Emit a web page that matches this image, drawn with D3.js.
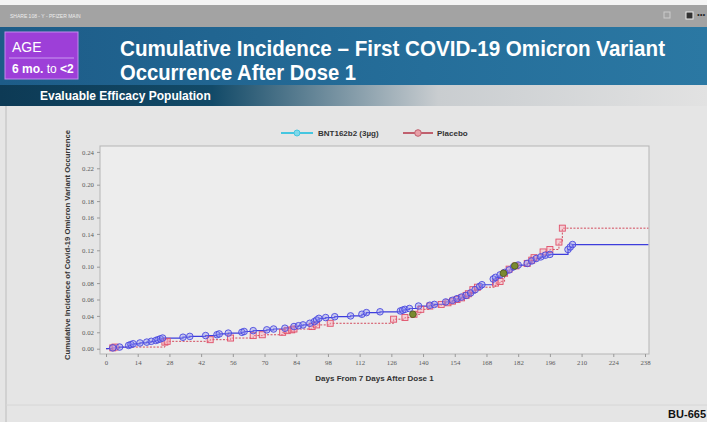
<!DOCTYPE html>
<html>
<head>
<meta charset="utf-8">
<script src="https://cdn.jsdelivr.net/npm/d3@7"></script>
<style>
  body { margin: 0; background: #fff; }
  svg { display: block; }
</style>
</head>
<body>
<script>
var width = 707, height = 422;

// BNT162b2 (3ug) events: day, cumulative incidence
const bntDays = [3, 6, 10, 11, 12, 15, 18, 20, 22, 23, 24, 25, 34, 37, 44, 49, 50, 54, 60, 61, 65, 71, 74, 79,
  83, 85, 87, 90, 92, 93, 94, 97, 101, 108, 113, 115, 121, 130, 131, 132, 134, 138, 143, 145, 150, 153, 155,
  157, 159, 161, 163, 165, 166, 171, 172, 174, 176, 178, 180, 182, 186, 188, 190, 192, 194, 196, 204, 205, 206];
const bntInc = [0.001, 0.002, 0.004, 0.005, 0.006, 0.007, 0.008, 0.009, 0.010, 0.011, 0.012, 0.013, 0.014, 0.015,
  0.016, 0.017, 0.018, 0.019, 0.020, 0.021, 0.022, 0.023, 0.024, 0.025, 0.027, 0.028, 0.029, 0.031, 0.033, 0.035,
  0.037, 0.038, 0.039, 0.040, 0.042, 0.044, 0.045, 0.046, 0.047, 0.048, 0.049, 0.052, 0.053, 0.054, 0.057, 0.059,
  0.061, 0.063, 0.065, 0.068, 0.072, 0.076, 0.078, 0.085, 0.087, 0.090, 0.093, 0.096, 0.100, 0.102, 0.104, 0.107,
  0.110, 0.112, 0.114, 0.115, 0.121, 0.124, 0.127];

// Placebo events
const plaDays = [3, 4, 26, 27, 46, 55, 65, 69, 78, 80, 82, 83, 91, 93, 99, 127, 132, 136, 139, 143, 148, 151, 153,
  155, 157, 159, 160, 162, 164, 172, 174, 176, 178, 181, 186, 188, 189, 193, 196, 200, 201.5];
const plaInc = [0.001, 0.002, 0.008, 0.009, 0.011, 0.013, 0.016, 0.017, 0.020, 0.022, 0.023, 0.024, 0.027, 0.029,
  0.031, 0.036, 0.038, 0.042, 0.048, 0.052, 0.054, 0.056, 0.058, 0.060, 0.062, 0.065, 0.067, 0.072, 0.075, 0.080,
  0.082, 0.092, 0.097, 0.101, 0.104, 0.108, 0.111, 0.118, 0.121, 0.130, 0.147];

// points where both groups' markers overlap
const bothDays = [135.5, 175.5, 180.5];
const bothInc = [0.042, 0.092, 0.101];

const lastDay = 239.5;
const xTicks = d3.range(0, 239, 14);
const yTicks = d3.range(0, 0.2401, 0.02);

var svg = d3.select("body").append("svg")
  .attr("width", width)
  .attr("height", height);

var defs = svg.append("defs");
var g1 = defs.append("linearGradient").attr("id", "hdr");
g1.append("stop").attr("offset", "0").attr("stop-color", "#1d5c88");
g1.append("stop").attr("offset", "0.6").attr("stop-color", "#256e9a");
g1.append("stop").attr("offset", "1").attr("stop-color", "#2b78a3");
var g2 = defs.append("linearGradient").attr("id", "band");
g2.append("stop").attr("offset", "0").attr("stop-color", "#0d3a55");
g2.append("stop").attr("offset", "0.3").attr("stop-color", "#124a68");
g2.append("stop").attr("offset", "0.62").attr("stop-color", "#c9cdd0");
g2.append("stop").attr("offset", "1").attr("stop-color", "#e2e2e2");

// page background
svg.append("rect").attr("width", width).attr("height", height).attr("fill", "#e5e5e5");
svg.append("rect").attr("width", width).attr("height", 5).attr("fill", "#f4f4f4");
svg.append("rect").attr("y", 5).attr("width", width).attr("height", 22).attr("fill", "#a3a3a3");
svg.append("text").attr("x", 10).attr("y", 18).attr("font-family", "Arial, sans-serif")
  .attr("font-size", 5).attr("fill", "#eee").text("SHARE 108  - Y - PFIZER MAIN");
svg.append("rect").attr("x", 664).attr("y", 12).attr("width", 6).attr("height", 6).attr("fill", "none").attr("stroke", "#ccc");
svg.append("rect").attr("x", 686).attr("y", 12).attr("width", 7).attr("height", 7).attr("fill", "#333").attr("stroke", "#eee");
svg.append("text").attr("x", 697).attr("y", 18).attr("font-size", 8).attr("fill", "#222").text("•••");

svg.append("rect").attr("y", 27).attr("width", width).attr("height", 58).attr("fill", "url(#hdr)");
svg.append("rect").attr("y", 85).attr("width", width).attr("height", 21).attr("fill", "url(#band)");
svg.append("line").attr("x1", 6).attr("x2", 6).attr("y1", 106).attr("y2", 422).attr("stroke", "#bdbdbd");
svg.append("line").attr("x1", 6).attr("x2", width).attr("y1", 405).attr("y2", 405).attr("stroke", "#d6d6d6");

// age box
svg.append("rect").attr("x", 5).attr("y", 32).attr("width", 73).attr("height", 47)
  .attr("fill", "#9d3fd8").attr("stroke", "#c58af0");
svg.append("line").attr("x1", 9).attr("x2", 74).attr("y1", 58).attr("y2", 58).attr("stroke", "#c99af0");
svg.append("text").attr("x", 12).attr("y", 52).attr("font-family", "Arial, sans-serif")
  .attr("font-size", 14).attr("fill", "#fff").text("AGE");
var ageT = svg.append("text").attr("x", 12).attr("y", 73).attr("font-family", "Arial, sans-serif")
  .attr("font-size", 12).attr("fill", "#fff");
ageT.append("tspan").attr("font-weight", "bold").text("6 mo.");
ageT.append("tspan").text(" to ");
ageT.append("tspan").attr("font-weight", "bold").text("<2");

var titleFont = "'Liberation Sans', Arial, sans-serif";
svg.append("text").attr("x", 120).attr("y", 56).attr("font-family", titleFont).attr("font-weight", "bold")
  .attr("font-size", 22).attr("fill", "#fff").attr("textLength", 545).attr("lengthAdjust", "spacingAndGlyphs")
  .text("Cumulative Incidence \u2013 First COVID-19 Omicron Variant");
svg.append("text").attr("x", 120).attr("y", 80).attr("font-family", titleFont).attr("font-weight", "bold")
  .attr("font-size", 22).attr("fill", "#fff").attr("textLength", 236).attr("lengthAdjust", "spacingAndGlyphs")
  .text("Occurrence After Dose 1");
svg.append("text").attr("x", 40).attr("y", 100).attr("font-family", "Arial, sans-serif").attr("font-weight", "bold")
  .attr("font-size", 12).attr("fill", "#fff").text("Evaluable Efficacy Population");

svg.append("text").attr("x", 706).attr("y", 418).attr("text-anchor", "end")
  .attr("font-family", "Arial, sans-serif").attr("font-weight", "bold")
  .attr("font-size", 11).attr("fill", "#111").text("BU-665");

// chart
var x = d3.scaleLinear().domain([0, 238]).range([106, 645]);
var y = d3.scaleLinear().domain([0, 0.24]).range([348.7, 151.9]);
var frame = {left: 100, right: 649, top: 146, bottom: 354};

svg.append("rect").attr("x", frame.left).attr("y", frame.top)
  .attr("width", frame.right - frame.left).attr("height", frame.bottom - frame.top)
  .attr("fill", "#ededed").attr("stroke", "#b5b5b5");

var tickFont = "'Liberation Serif', 'DejaVu Serif', serif";
var yAxis = svg.append("g").attr("transform", "translate(" + frame.left + ",0)")
  .call(d3.axisLeft(y).tickValues(yTicks).tickFormat(d3.format(".2f")).tickSize(3).tickPadding(3));
var xAxis = svg.append("g").attr("transform", "translate(0," + frame.bottom + ")")
  .call(d3.axisBottom(x).tickValues(xTicks).tickSize(3).tickPadding(3));
[xAxis, yAxis].forEach(function(a) {
  a.select(".domain").remove();
  a.selectAll("line").attr("stroke", "#999");
  a.selectAll("text").attr("font-family", tickFont).attr("font-size", 6.8).attr("fill", "#5a5a5a");
});

svg.append("text").attr("x", (frame.left + frame.right) / 2).attr("y", 381)
  .attr("text-anchor", "middle").attr("font-family", "Arial, sans-serif").attr("font-weight", "bold")
  .attr("font-size", 8).attr("fill", "#333").text("Days From 7 Days After Dose 1");
svg.append("text").attr("transform", "translate(70,245) rotate(-90)")
  .attr("text-anchor", "middle").attr("font-family", "Arial, sans-serif").attr("font-weight", "bold")
  .attr("font-size", 7).attr("fill", "#333").attr("textLength", 230).attr("lengthAdjust", "spacingAndGlyphs")
  .text("Cumulative Incidence of Covid-19 Omicron Variant  Occurrence");

function stepData(days, inc) {
  var pts = [{d: 0, v: 0}];
  days.forEach(function(d, i) { pts.push({d: d, v: inc[i]}); });
  pts.push({d: lastDay, v: inc[inc.length - 1]});
  return pts;
}
var line = d3.line().x(function(p) { return x(p.d); }).y(function(p) { return y(p.v); }).curve(d3.curveStepAfter);

svg.append("path").attr("d", line(stepData(plaDays, plaInc)))
  .attr("fill", "none").attr("stroke", "#d24a5c").attr("stroke-width", 1).attr("stroke-dasharray", "2,1.5");
svg.append("path").attr("d", line(stepData(bntDays, bntInc)))
  .attr("fill", "none").attr("stroke", "#3d3ddc").attr("stroke-width", 1.2);

svg.append("g").selectAll("rect").data(plaDays).enter().append("rect")
  .attr("x", function(d) { return x(d) - 3; })
  .attr("y", function(d, i) { return y(plaInc[i]) - 3; })
  .attr("width", 6).attr("height", 6)
  .attr("fill", "rgba(250,170,185,0.45)").attr("stroke", "#e0506a").attr("stroke-width", 0.9);

svg.append("g").selectAll("circle").data(bntDays).enter().append("circle")
  .attr("cx", function(d) { return x(d); })
  .attr("cy", function(d, i) { return y(bntInc[i]); })
  .attr("r", 3.3)
  .attr("fill", "rgba(140,140,240,0.4)").attr("stroke", "#4a4ae0").attr("stroke-width", 0.9);

svg.append("g").selectAll("circle").data(bothDays).enter().append("circle")
  .attr("cx", function(d) { return x(d); })
  .attr("cy", function(d, i) { return y(bothInc[i]); })
  .attr("r", 3.3)
  .attr("fill", "#7a8a30").attr("stroke", "#556020").attr("stroke-width", 0.9);

// legend
var leg = svg.append("g").attr("font-family", "Arial, sans-serif").attr("font-weight", "bold")
  .attr("font-size", 8).attr("fill", "#333");
leg.append("line").attr("x1", 281).attr("x2", 313).attr("y1", 133).attr("y2", 133)
  .attr("stroke", "#45c6e0").attr("stroke-width", 2);
leg.append("circle").attr("cx", 297).attr("cy", 133).attr("r", 3).attr("fill", "#7fd8ea").attr("stroke", "#45c6e0");
leg.append("text").attr("x", 318).attr("y", 136).text("BNT162b2 (3\u00b5g)");
leg.append("line").attr("x1", 403).attr("x2", 433).attr("y1", 133).attr("y2", 133)
  .attr("stroke", "#c0606e").attr("stroke-width", 2);
leg.append("circle").attr("cx", 418).attr("cy", 133).attr("r", 3.3).attr("fill", "#e8a0a8").attr("stroke", "#c0606e");
leg.append("text").attr("x", 437).attr("y", 136).text("Placebo");
</script>
</body>
</html>
